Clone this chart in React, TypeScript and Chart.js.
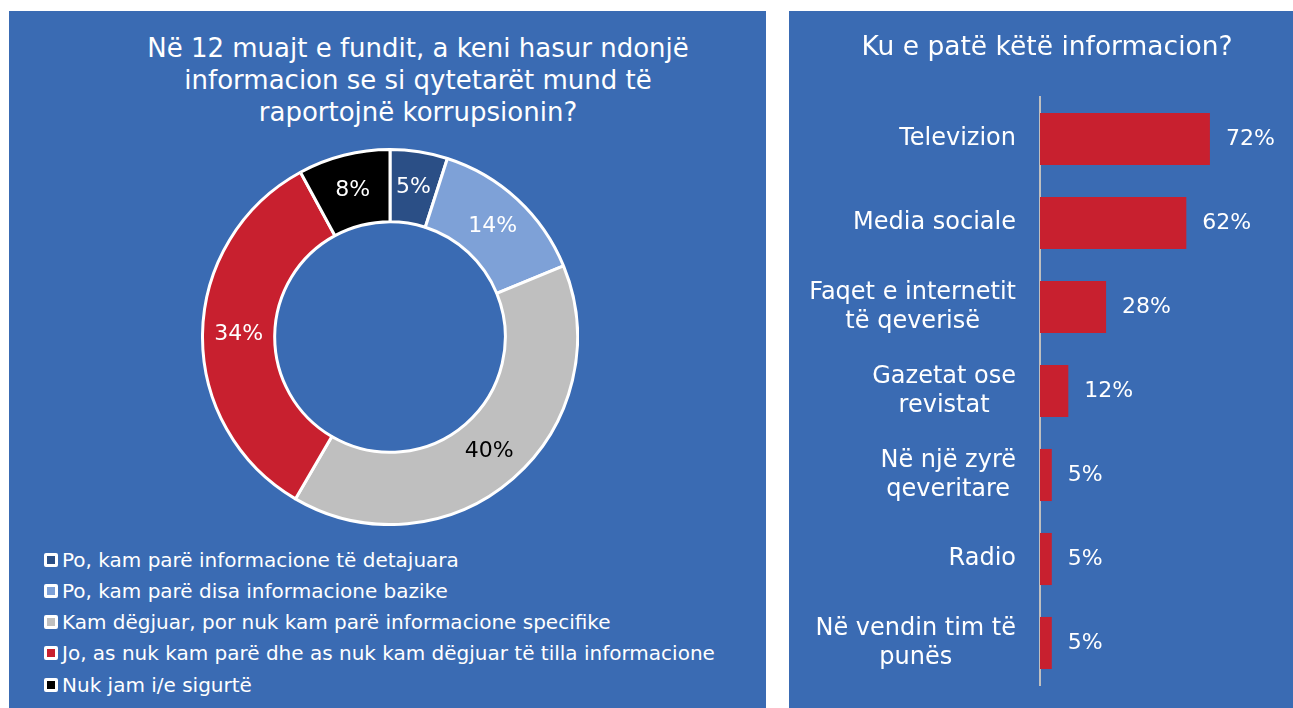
import React, { useEffect, useRef } from "react";
import { Chart, registerables } from "chart.js";
Chart.register(...registerables);

const FONT = "'DejaVu Sans', sans-serif";
const BG = "#3A6BB3";

const donutTitle = [
  "Në 12 muajt e fundit, a keni hasur ndonjë",
  "informacion se si qytetarët mund të",
  "raportojnë korrupsionin?",
];
const donutLabels = [
  "Po, kam parë informacione të detajuara",
  "Po, kam parë disa informacione bazike",
  "Kam dëgjuar, por nuk kam parë informacione specifike",
  "Jo, as nuk kam parë dhe as nuk kam dëgjuar të tilla informacione",
  "Nuk jam i/e sigurtë",
];
const donutValues = [5, 14, 40, 34, 8];
const donutColors = ["#2B4F86", "#7EA1D7", "#BFBFBF", "#C8202F", "#000000"];
const donutLabelColors = ["#FFFFFF", "#FFFFFF", "#000000", "#FFFFFF", "#FFFFFF"];

const barTitle = "Ku e patë këtë informacion?";
const barCategories = [
  ["Televizion"],
  ["Media sociale"],
  ["Faqet e internetit", "të qeverisë"],
  ["Gazetat ose", "revistat"],
  ["Në një zyrë", "qeveritare"],
  ["Radio"],
  ["Në vendin tim të", "punës"],
];
const barValues = [72, 62, 28, 12, 5, 5, 5];

const donutLabelPlugin = {
  id: "donutValueLabels",
  afterDatasetsDraw(chart: any) {
    const ctx = chart.ctx;
    const meta = chart.getDatasetMeta(0);
    ctx.save();
    ctx.font = `22px ${FONT}`;
    ctx.textAlign = "center";
    ctx.textBaseline = "middle";
    meta.data.forEach((arc: any, i: number) => {
      const p = arc.getCenterPoint();
      ctx.fillStyle = donutLabelColors[i];
      ctx.fillText(donutValues[i] + "%", p.x, p.y);
    });
    ctx.restore();
  },
};

const barLabelPlugin = {
  id: "barValueLabels",
  afterDatasetsDraw(chart: any) {
    const ctx = chart.ctx;
    const meta = chart.getDatasetMeta(0);
    ctx.save();
    ctx.font = `22px ${FONT}`;
    ctx.textAlign = "left";
    ctx.textBaseline = "middle";
    ctx.fillStyle = "#FFFFFF";
    meta.data.forEach((bar: any, i: number) => {
      ctx.fillText(barValues[i] + "%", bar.x + 16, bar.y);
    });
    ctx.restore();
  },
};

const categoryLabelPlugin = {
  id: "categoryLabels",
  afterDraw(chart: any) {
    const ctx = chart.ctx;
    const yScale = chart.scales.y;
    const right = chart.chartArea.left - 24;
    const lh = 29;
    ctx.save();
    ctx.font = `24px ${FONT}`;
    ctx.textAlign = "center";
    ctx.textBaseline = "middle";
    ctx.fillStyle = "#FFFFFF";
    barCategories.forEach((lines, i) => {
      const y = yScale.getPixelForValue(i);
      const maxW = Math.max(...lines.map((l) => ctx.measureText(l).width));
      const cx = right - maxW / 2;
      const y0 = y - ((lines.length - 1) * lh) / 2;
      lines.forEach((l, j) => ctx.fillText(l, cx, y0 + j * lh));
    });
    ctx.restore();
  },
};

function DonutChart() {
  const ref = useRef<HTMLCanvasElement>(null);
  useEffect(() => {
    const chart = new Chart(ref.current!, {
      type: "doughnut",
      data: {
        labels: donutLabels,
        datasets: [
          {
            data: donutValues,
            backgroundColor: donutColors,
            borderColor: "#FFFFFF",
            borderWidth: 3,
          },
        ],
      },
      options: {
        animation: false,
        responsive: false,
        cutout: "61.5%",
        layout: { padding: 0 },
        plugins: {
          legend: { display: false },
          tooltip: { enabled: false },
          title: { display: false },
        },
      },
      plugins: [donutLabelPlugin],
    } as any);
    return () => chart.destroy();
  }, []);
  return (
    <canvas
      ref={ref}
      width={378}
      height={378}
      style={{ position: "absolute", left: 192, top: 137, width: 378, height: 378 }}
    />
  );
}

function BarChart() {
  const ref = useRef<HTMLCanvasElement>(null);
  useEffect(() => {
    const chart = new Chart(ref.current!, {
      type: "bar",
      data: {
        labels: barCategories,
        datasets: [
          {
            data: barValues,
            backgroundColor: "#C8202F",
            barPercentage: 0.62,
            categoryPercentage: 1,
          },
        ],
      },
      options: {
        indexAxis: "y",
        animation: false,
        responsive: false,
        layout: { padding: { left: 29, right: 17, top: 0, bottom: 23 } },
        plugins: {
          legend: { display: false },
          tooltip: { enabled: false },
          title: {
            display: true,
            text: barTitle,
            color: "#FFFFFF",
            font: { family: FONT, size: 26.5, weight: "normal", lineHeight: 1.2 },
            padding: { top: 21, bottom: 33.2 },
          },
        },
        scales: {
          x: { display: false, min: 0, max: 100 },
          y: {
            grid: { display: false },
            border: { display: true, color: "#BFBFBF", width: 2 },
            ticks: { display: false },
            afterFit: (s: any) => {
              s.width = 222;
            },
          },
        },
      },
      plugins: [barLabelPlugin, categoryLabelPlugin],
    } as any);
    return () => chart.destroy();
  }, []);
  return (
    <canvas
      ref={ref}
      width={504}
      height={697}
      style={{ position: "absolute", left: 0, top: 0, width: 504, height: 697 }}
    />
  );
}

export default function App() {
  return (
    <div style={{ position: "absolute", left: 0, top: 0, width: 1293, height: 708, background: "#FFFFFF", fontFamily: FONT }}>
      <div style={{ position: "absolute", left: 9, top: 11, width: 757, height: 697, background: BG }}>
        <div
          style={{
            position: "absolute",
            left: 9,
            top: 21,
            width: 800,
            textAlign: "center",
            color: "#FFFFFF",
            fontSize: 26,
            lineHeight: "32px",
          }}
        >
          {donutTitle.map((t, i) => (
            <div key={i}>{t}</div>
          ))}
        </div>
        <DonutChart />
        <div style={{ position: "absolute", left: 35, top: 533, color: "#FFFFFF", fontSize: 20 }}>
          {donutLabels.map((l, i) => (
            <div key={i} style={{ display: "flex", alignItems: "center", height: 31.25, whiteSpace: "nowrap" }}>
              <span
                style={{
                  display: "inline-block",
                  flex: "none",
                  width: 8,
                  height: 8,
                  background: donutColors[i],
                  border: "3px solid #FFFFFF",
                  borderRadius: 2,
                  marginRight: 4,
                }}
              />
              <span>{l}</span>
            </div>
          ))}
        </div>
      </div>
      <div style={{ position: "absolute", left: 789, top: 11, width: 504, height: 697, background: BG }}>
        <BarChart />
      </div>
    </div>
  );
}
